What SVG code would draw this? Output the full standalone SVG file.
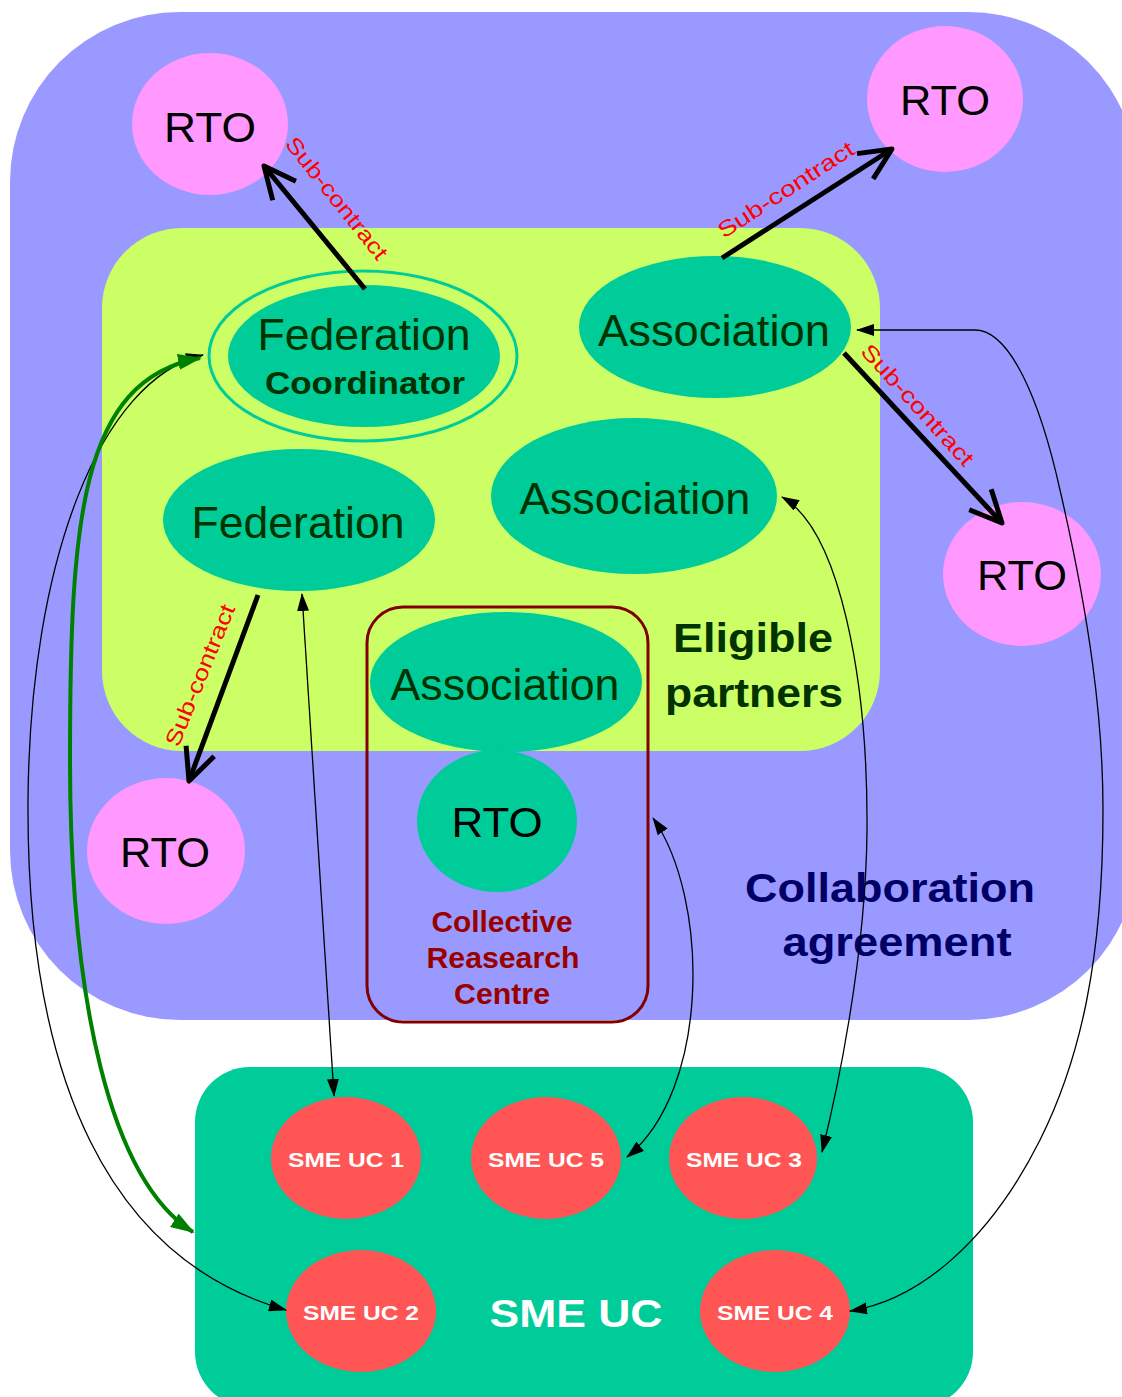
<svg xmlns="http://www.w3.org/2000/svg" width="1122" height="1397" viewBox="0 0 1122 1397">
<style>
  text { font-family: "Liberation Sans", Arial, sans-serif; }
  .rto { fill: #FF99FF; }
  .org { fill: #00CC99; }
  .sme { fill: #FF5555; }
  .big { font-size: 44px; fill: #003300; text-anchor: middle; }
  .rtot { font-size: 42px; fill: #000000; text-anchor: middle; }
  .smet { font-size: 21px; font-weight: bold; fill: #FFFFFF; text-anchor: middle; }
  .sub { font-size: 22px; fill: #FF0000; text-anchor: middle; }
  .thick { stroke: #000000; stroke-width: 5; fill: none; stroke-linecap: butt; }
  .thin { stroke: #000000; stroke-width: 1.3; fill: none; }
  .green { stroke: #008000; stroke-width: 4; fill: none; }
</style>
<defs>
  <marker id="open" viewBox="-4 -4 42 38" refX="32" refY="15" markerWidth="42" markerHeight="38" markerUnits="userSpaceOnUse" orient="auto">
    <path d="M0,0 L32,15 L0,30" fill="none" stroke="#000" stroke-width="5" stroke-linejoin="round"/>
  </marker>
  <marker id="tri" viewBox="0 0 18 12" refX="17" refY="6" markerWidth="18" markerHeight="12" markerUnits="userSpaceOnUse" orient="auto-start-reverse">
    <path d="M0,0 L18,6 L0,12 z" fill="#000"/>
  </marker>
  <marker id="gtri" viewBox="0 0 24 16" refX="22" refY="8" markerWidth="24" markerHeight="16" markerUnits="userSpaceOnUse" orient="auto-start-reverse">
    <path d="M0,0 L24,8 L0,16 z" fill="#008000"/>
  </marker>
</defs>

<g id="collaboration-agreement">
  <rect x="10" y="12" width="1128" height="1008" rx="170" ry="170" fill="#9999FF"/>
  <text x="890" y="902" font-size="41" font-weight="bold" fill="#000066" text-anchor="middle" textLength="290" lengthAdjust="spacingAndGlyphs">Collaboration</text>
  <text x="897" y="956" font-size="41" font-weight="bold" fill="#000066" text-anchor="middle" textLength="229" lengthAdjust="spacingAndGlyphs">agreement</text>
</g>

<g id="eligible-partners">
  <rect x="102" y="228" width="778" height="523" rx="80" ry="80" fill="#CCFF66"/>
  <text x="753" y="652" font-size="40" font-weight="bold" fill="#003300" text-anchor="middle" textLength="160" lengthAdjust="spacingAndGlyphs">Eligible</text>
  <text x="754" y="707" font-size="40" font-weight="bold" fill="#003300" text-anchor="middle" textLength="178" lengthAdjust="spacingAndGlyphs">partners</text>
</g>

<g id="sme-uc-box">
  <rect x="195" y="1067" width="778" height="340" rx="55" ry="55" fill="#00CC99"/>
  <text x="576" y="1327" font-size="38" font-weight="bold" fill="#FFFFFF" text-anchor="middle" textLength="173" lengthAdjust="spacingAndGlyphs">SME UC</text>
</g>

<g id="rto-top-left">
  <ellipse class="rto" cx="210" cy="124" rx="78" ry="71"/>
  <text class="rtot" x="210" y="142" textLength="92" lengthAdjust="spacingAndGlyphs">RTO</text>
</g>
<g id="rto-top-right">
  <ellipse class="rto" cx="945" cy="99" rx="78" ry="73"/>
  <text class="rtot" x="945" y="115" textLength="90" lengthAdjust="spacingAndGlyphs">RTO</text>
</g>
<g id="rto-right">
  <ellipse class="rto" cx="1022" cy="574" rx="79" ry="72"/>
  <text class="rtot" x="1022" y="590" textLength="90" lengthAdjust="spacingAndGlyphs">RTO</text>
</g>
<g id="rto-bottom-left">
  <ellipse class="rto" cx="166" cy="851" rx="79" ry="73"/>
  <text class="rtot" x="165" y="867" textLength="90" lengthAdjust="spacingAndGlyphs">RTO</text>
</g>

<g id="federation-coordinator">
  <ellipse cx="363" cy="356" rx="154" ry="85" fill="none" stroke="#00CC99" stroke-width="3"/>
  <ellipse class="org" cx="364" cy="356" rx="136" ry="71"/>
  <text class="big" x="364" y="350" textLength="213" lengthAdjust="spacingAndGlyphs">Federation</text>
  <text x="365" y="394" font-size="32" font-weight="bold" fill="#003300" text-anchor="middle" textLength="200" lengthAdjust="spacingAndGlyphs">Coordinator</text>
</g>
<g id="federation">
  <ellipse class="org" cx="299" cy="520" rx="136" ry="71"/>
  <text class="big" x="298" y="538" textLength="213" lengthAdjust="spacingAndGlyphs">Federation</text>
</g>
<g id="association-top">
  <ellipse class="org" cx="715" cy="327" rx="136" ry="71"/>
  <text class="big" x="714" y="346" textLength="232" lengthAdjust="spacingAndGlyphs">Association</text>
</g>
<g id="association-middle">
  <ellipse class="org" cx="634" cy="496" rx="143" ry="78"/>
  <text class="big" x="635" y="514" textLength="231" lengthAdjust="spacingAndGlyphs">Association</text>
</g>

<g id="collective-research-centre">
  <ellipse class="org" cx="506" cy="682" rx="136" ry="70"/>
  <text class="big" x="505" y="700" textLength="229" lengthAdjust="spacingAndGlyphs">Association</text>
  <ellipse class="org" cx="497" cy="821" rx="80" ry="71"/>
  <text class="rtot" x="497" y="837" textLength="91" lengthAdjust="spacingAndGlyphs">RTO</text>
  <rect x="367" y="607" width="281" height="415" rx="36" ry="36" fill="none" stroke="#800000" stroke-width="3"/>
  <text x="502" y="932" font-size="29" font-weight="bold" fill="#990000" text-anchor="middle" textLength="141" lengthAdjust="spacingAndGlyphs">Collective</text>
  <text x="503" y="968" font-size="29" font-weight="bold" fill="#990000" text-anchor="middle" textLength="153" lengthAdjust="spacingAndGlyphs">Reasearch</text>
  <text x="502" y="1004" font-size="29" font-weight="bold" fill="#990000" text-anchor="middle" textLength="96" lengthAdjust="spacingAndGlyphs">Centre</text>
</g>

<g id="sme-uc-1">
  <ellipse class="sme" cx="346" cy="1158" rx="75" ry="61"/>
  <text class="smet" x="346" y="1167" textLength="116" lengthAdjust="spacingAndGlyphs">SME UC 1</text>
</g>
<g id="sme-uc-5">
  <ellipse class="sme" cx="546" cy="1158" rx="75" ry="61"/>
  <text class="smet" x="546" y="1167" textLength="116" lengthAdjust="spacingAndGlyphs">SME UC 5</text>
</g>
<g id="sme-uc-3">
  <ellipse class="sme" cx="743" cy="1158" rx="74" ry="61"/>
  <text class="smet" x="744" y="1167" textLength="116" lengthAdjust="spacingAndGlyphs">SME UC 3</text>
</g>
<g id="sme-uc-2">
  <ellipse class="sme" cx="361" cy="1311" rx="75" ry="61"/>
  <text class="smet" x="361" y="1320" textLength="116" lengthAdjust="spacingAndGlyphs">SME UC 2</text>
</g>
<g id="sme-uc-4">
  <ellipse class="sme" cx="775" cy="1311" rx="75" ry="61"/>
  <text class="smet" x="775" y="1320" textLength="116" lengthAdjust="spacingAndGlyphs">SME UC 4</text>
</g>

<g id="connectors">
  <!-- sub-contract arrows -->
  <line class="thick" x1="365" y1="289" x2="264" y2="166" marker-end="url(#open)"/>
  <text class="sub" x="331" y="203" transform="rotate(51.5 331 203)" textLength="150" lengthAdjust="spacingAndGlyphs">Sub-contract</text>

  <line class="thick" x1="722" y1="258" x2="892" y2="149" marker-end="url(#open)"/>
  <text class="sub" x="790" y="196" transform="rotate(-33 790 196)" textLength="158" lengthAdjust="spacingAndGlyphs">Sub-contract</text>

  <line class="thick" x1="844" y1="353" x2="1002" y2="523" marker-end="url(#open)"/>
  <text class="sub" x="912" y="410" transform="rotate(47.8 912 410)" textLength="156" lengthAdjust="spacingAndGlyphs">Sub-contract</text>

  <line class="thick" x1="258" y1="595" x2="189" y2="781" marker-end="url(#open)"/>
  <text class="sub" x="207" y="678" transform="rotate(-67.8 207 678)" textLength="151" lengthAdjust="spacingAndGlyphs">Sub-contract</text>

  <!-- thin collaboration links -->
  <path class="thin" d="M302,594 L334,1096" marker-start="url(#tri)" marker-end="url(#tri)"/>
  <path class="thin" d="M653,818 C710,900 710,1090 627,1157" marker-start="url(#tri)" marker-end="url(#tri)"/>
  <path class="thin" d="M782,497 C840,530 868,680 867,830 C866,960 835,1100 822,1152" marker-start="url(#tri)" marker-end="url(#tri)"/>
  <path class="thin" d="M857,330 L975,330 C1010,330 1040,400 1060,490 C1090,620 1103,720 1103,810 C1103,960 1080,1060 1040,1140 C990,1240 920,1300 850,1311" marker-start="url(#tri)" marker-end="url(#tri)"/>
  <path class="thin" d="M203,355 C100,380 30,560 28,800 C26,1080 110,1260 286,1310" marker-start="url(#tri)" marker-end="url(#tri)"/>

  <!-- green coordinator link -->
  <path class="green" d="M200,358 C80,380 70,520 70,760 C70,1000 110,1180 193,1232" marker-start="url(#gtri)" marker-end="url(#gtri)"/>
</g>
</svg>
